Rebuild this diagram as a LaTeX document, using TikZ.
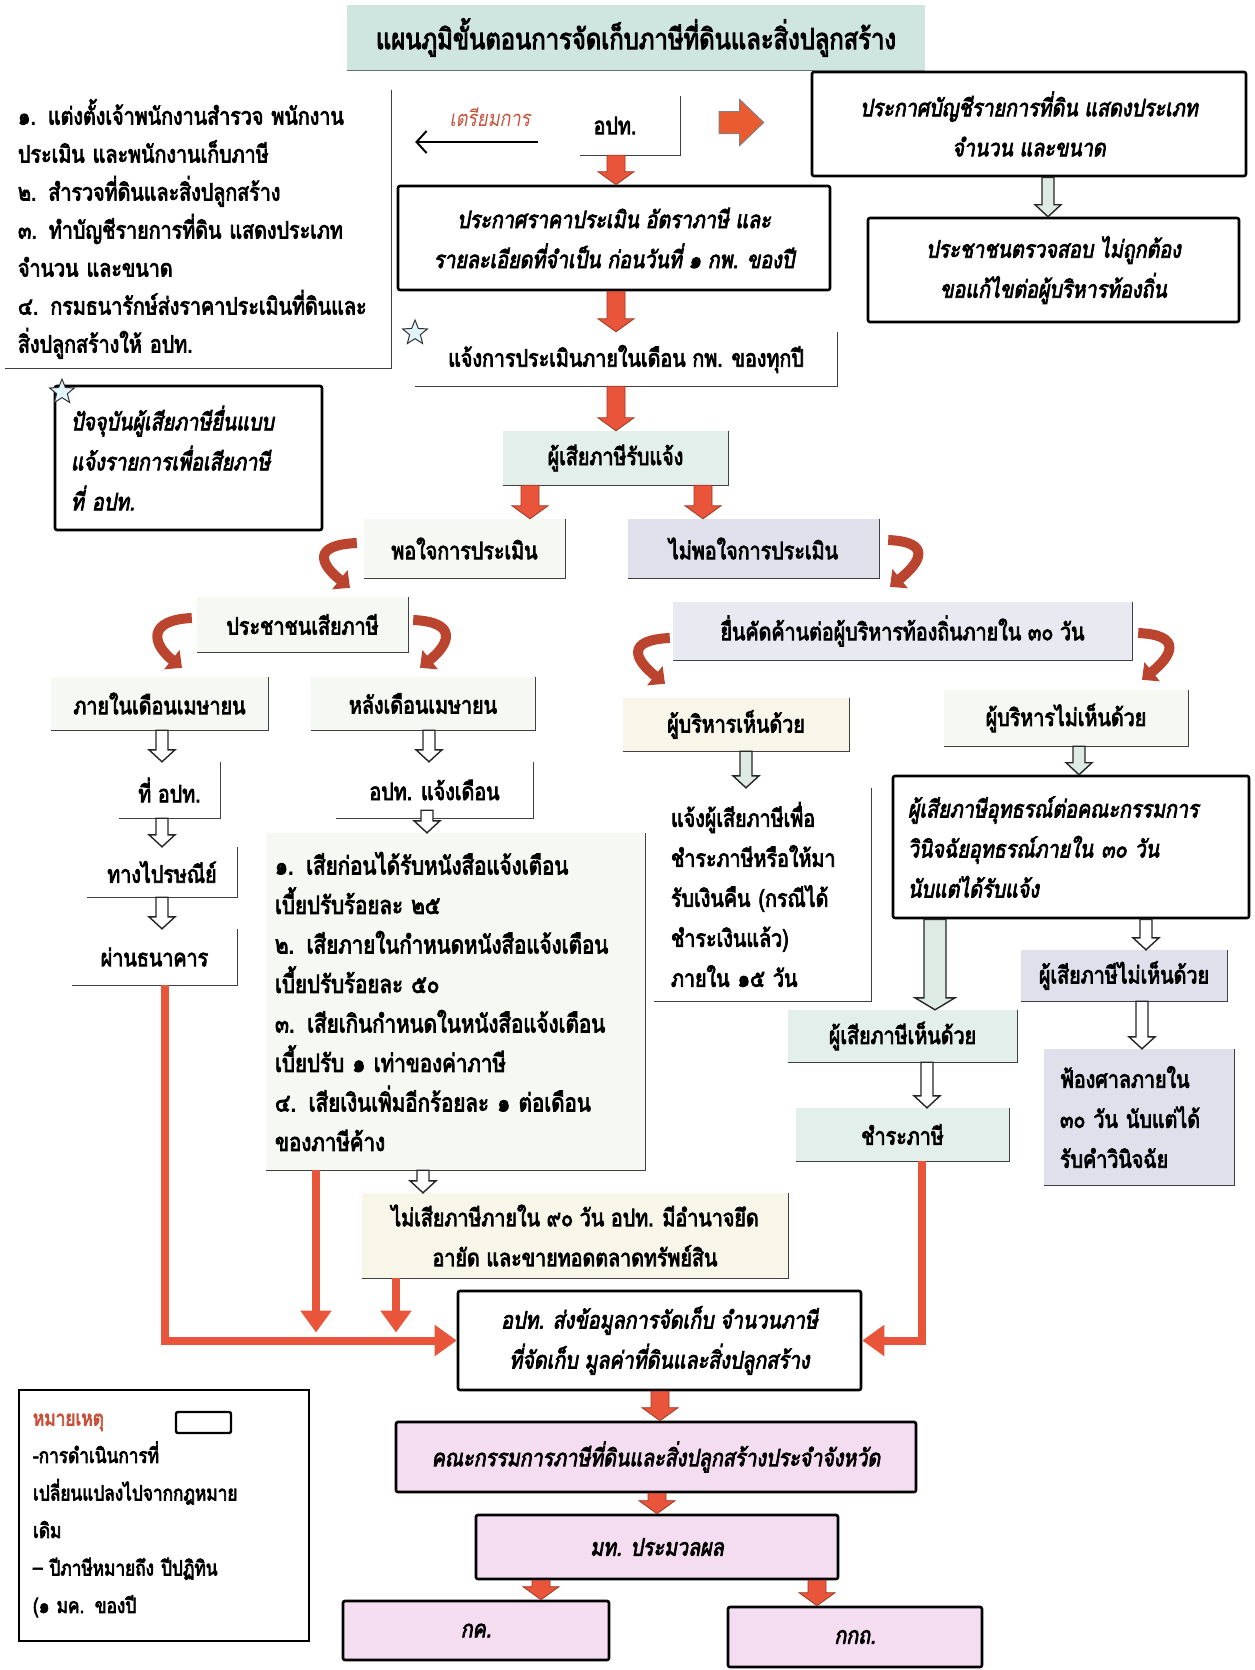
\documentclass[tikz,border=0pt]{standalone}
\usepackage{fontspec}
\setmainfont[Script=Thai, FakeStretch=0.82,
  BoldFont={Loma}, BoldFeatures={FakeBold=3.2},
  BoldItalicFeatures={FakeBold=3.2}]{Loma}
\usetikzlibrary{calc,arrows.meta,shapes.geometric}

\definecolor{titlefill}{HTML}{CFE5DF}
\definecolor{tealfill}{HTML}{E2EFEB}
\definecolor{lavfill}{HTML}{DFE0EC}
\definecolor{creamfill}{HTML}{F7F6E9}
\definecolor{palefill}{HTML}{F6F8F3}
\definecolor{pinkfill}{HTML}{F4DDF1}
\definecolor{arrred}{HTML}{E8553A}
\definecolor{arrdark}{HTML}{9C3A25}
\definecolor{arrgreen}{HTML}{DDEBE4}
\definecolor{labred}{HTML}{C8503A}

\newcommand{\bodyfont}{\fontsize{24}{40}\selectfont}

\tikzset{
  arrshaft/.store in=\arrshaft, arrshaft=7pt,
  arrhw/.store in=\arrhw, arrhw=14pt,
  arrhl/.store in=\arrhl, arrhl=12pt,
  downarr/.style={to path={let \p1=(\tikztostart), \p2=(\tikztotarget) in
    (\x1-\arrshaft,\y1) -- (\x1-\arrshaft,\y2+\arrhl) -- (\x1-\arrhw,\y2+\arrhl)
    -- (\x1,\y2) -- (\x1+\arrhw,\y2+\arrhl) -- (\x1+\arrshaft,\y2+\arrhl)
    -- (\x1+\arrshaft,\y1) -- cycle}},
  rightarr/.style={to path={let \p1=(\tikztostart), \p2=(\tikztotarget) in
    (\x1,\y1-\arrshaft) -- (\x2-\arrhl,\y1-\arrshaft) -- (\x2-\arrhl,\y1-\arrhw)
    -- (\x2,\y1) -- (\x2-\arrhl,\y1+\arrhw) -- (\x2-\arrhl,\y1+\arrshaft)
    -- (\x1,\y1+\arrshaft) -- cycle}},
  redarr/.style={downarr, fill=arrred, draw=arrdark, line width=0.8pt,
    arrshaft=9pt, arrhw=18pt, arrhl=13pt},
  hollarr/.style={downarr, fill=white, draw=black!85, line width=1.4pt,
    arrshaft=6pt, arrhw=13pt, arrhl=12pt},
  redline/.style={draw=arrred, line width=8pt, -{Triangle[length=22pt,width=30pt]}},
  curvy/.style={draw=arrred!80!black, line width=10pt, -{Triangle[length=13pt,width=24pt]}},
  edgeline/.style={draw=black!75, line width=1.3pt},
  flat/.style={font=\bfseries\bodyfont, align=center, inner sep=0pt},
  boldbox/.style={flat, draw, line width=2.6pt, rounded corners=2pt, fill=white,
    font=\bfseries\itshape\bodyfont},
  leftbox/.style={align=left, text width=#1},
  starmark/.style={star, star points=5, star point ratio=2.3, draw=black!80,
    line width=1pt, fill=cyan!12, minimum size=26pt, inner sep=0pt},
}

\begin{document}
\begin{tikzpicture}[x=1pt, y=1pt]

  \fill[white] (0,0) rectangle (1254,-1670);
  \useasboundingbox (0,0) rectangle (1254,-1670);

  % top part
  \node[flat, fill=titlefill, minimum width=578pt, minimum height=65pt,
    font=\bfseries\fontsize{29}{32}\selectfont] (title) at (636,-37.5)
    {แผนภูมิขั้นตอนการจัดเก็บภาษีที่ดินและสิ่งปลูกสร้าง};
  \node[flat, leftbox=360pt, minimum width=386pt, minimum height=278pt,
    font=\bfseries\fontsize{24}{38}\selectfont] (prep) at (198,-229)
    {๑. แต่งตั้งเจ้าพนักงานสำรวจ พนักงาน\\ประเมิน และพนักงานเก็บภาษี\\๒. สำรวจที่ดินและสิ่งปลูกสร้าง\\๓. ทำบัญชีรายการที่ดิน แสดงประเภท\\จำนวน และขนาด\\๔. กรมธนารักษ์ส่งราคาประเมินที่ดินและ\\สิ่งปลูกสร้างให้ อปท.};
  \node[flat, minimum width=100pt, minimum height=59pt] (aopt) at (630,-125.5) {อปท.\hspace*{30pt}};
  \node[flat, font=\itshape\fontsize{22}{30}\selectfont, text=labred] (triem) at (490,-117) {เตรียมการ};
  \node[boldbox, minimum width=434pt, minimum height=104pt] (listann) at (1029,-124)
    {ประกาศบัญชีรายการที่ดิน แสดงประเภท\\จำนวน และขนาด};
  \node[boldbox, minimum width=371pt, minimum height=104pt] (people) at (1053.5,-270)
    {ประชาชนตรวจสอบ ไม่ถูกต้อง\\ขอแก้ไขต่อผู้บริหารท้องถิ่น};
  \node[boldbox, minimum width=432pt, minimum height=104pt] (price) at (614,-238)
    {ประกาศราคาประเมิน อัตราภาษี และ\\รายละเอียดที่จำเป็น ก่อนวันที่ ๑ กพ. ของปี};
  \node[flat, minimum width=422pt, minimum height=54pt] (notify) at (626,-359)
    {แจ้งการประเมินภายในเดือน กพ. ของทุกปี};
  \node[boldbox, leftbox=235pt, minimum width=267pt, minimum height=144pt] (cur) at (188.5,-458)
    {ปัจจุบันผู้เสียภาษียื่นแบบ\\แจ้งรายการเพื่อเสียภาษี\\ที่ อปท.};
  \node[starmark] (star1) at (415,-333) {};
  \node[starmark] (star2) at (62,-392) {};

  % assessment
  \node[flat, fill=tealfill, minimum width=225pt, minimum height=54pt] (rub) at (615.5,-458) {ผู้เสียภาษีรับแจ้ง};
  \node[flat, fill=palefill, minimum width=201pt, minimum height=59pt] (pojai) at (464.5,-548.5) {พอใจการประเมิน};
  \node[flat, fill=lavfill, minimum width=251pt, minimum height=59pt] (maipo) at (753.5,-548.5) {ไม่พอใจการประเมิน};
  \node[flat, fill=palefill, minimum width=211pt, minimum height=55pt] (pc) at (302.5,-624.5) {ประชาชนเสียภาษี};
  \node[flat, fill=lavfill!70, minimum width=459pt, minimum height=58pt] (yuen) at (902.5,-631)
    {ยื่นคัดค้านต่อผู้บริหารท้องถิ่นภายใน ๓๐ วัน};
  \node[flat, fill=palefill, minimum width=217pt, minimum height=53pt] (inapr) at (159.5,-703.5) {ภายในเดือนเมษายน};
  \node[flat, fill=palefill, minimum width=224pt, minimum height=53pt] (afapr) at (423,-703.5) {หลังเดือนเมษายน};
  \node[flat, fill=creamfill, minimum width=226pt, minimum height=53pt] (exagr) at (736,-724.5) {ผู้บริหารเห็นด้วย};
  \node[flat, fill=palefill, minimum width=244pt, minimum height=56pt] (exdis) at (1066,-718) {ผู้บริหารไม่เห็นด้วย};

  % paying
  \node[flat, minimum width=101pt, minimum height=56pt] (ataopt) at (169.5,-790) {ที่ อปท.};
  \node[flat, minimum width=197pt, minimum height=56pt] (warn) at (434.5,-790) {อปท. แจ้งเดือน};
  \node[flat, minimum width=150pt, minimum height=50pt] (post) at (162,-872) {ทางไปรษณีย์};
  \node[flat, minimum width=165pt, minimum height=56pt] (bank) at (154.5,-957) {ผ่านธนาคาร};
  \node[flat, leftbox=361pt, fill=palefill, minimum width=379pt, minimum height=337pt,
    font=\bfseries\fontsize{25}{39.5}\selectfont] (penal) at (455.5,-1001.5)
    {๑. เสียก่อนได้รับหนังสือแจ้งเตือน\\เบี้ยปรับร้อยละ ๒๕\\๒. เสียภายในกำหนดหนังสือแจ้งเตือน\\เบี้ยปรับร้อยละ ๕๐\\๓. เสียเกินกำหนดในหนังสือแจ้งเตือน\\เบี้ยปรับ ๑ เท่าของค่าภาษี\\๔. เสียเงินเพิ่มอีกร้อยละ ๑ ต่อเดือน\\ของภาษีค้าง};
  \node[flat, leftbox=183pt, minimum width=217pt, minimum height=213pt] (refund) at (762.5,-894.5)
    {แจ้งผู้เสียภาษีเพื่อ\\ชำระภาษีหรือให้มา\\รับเงินคืน (กรณีได้\\ชำระเงินแล้ว)\\ภายใน ๑๕ วัน};
  \node[boldbox, leftbox=326pt, minimum width=356pt, minimum height=142pt] (appeal) at (1071,-847)
    {ผู้เสียภาษีอุทธรณ์ต่อคณะกรรมการ\\วินิจฉัยอุทธรณ์ภายใน ๓๐ วัน\\นับแต่ได้รับแจ้ง};
  \node[flat, fill=lavfill, minimum width=206pt, minimum height=51pt] (txdis) at (1124,-975.5) {ผู้เสียภาษีไม่เห็นด้วย};
  \node[flat, fill=tealfill, minimum width=229pt, minimum height=52pt] (txagr) at (902.5,-1036) {ผู้เสียภาษีเห็นด้วย};
  \node[flat, leftbox=158pt, fill=lavfill, minimum width=190pt, minimum height=136pt] (court) at (1139,-1117)
    {ฟ้องศาลภายใน\\๓๐ วัน นับแต่ได้\\รับคำวินิจฉัย};
  \node[flat, fill=tealfill, minimum width=213pt, minimum height=53pt] (pay) at (902.5,-1134.5) {ชำระภาษี};
  \node[flat, fill=creamfill, minimum width=426pt, minimum height=85pt] (seize) at (575,-1235.5)
    {ไม่เสียภาษีภายใน ๙๐ วัน อปท. มีอำนาจยึด\\อายัด และขายทอดตลาดทรัพย์สิน};

  % reporting
  \node[boldbox, minimum width=403pt, minimum height=99pt] (send) at (659.5,-1340.5)
    {อปท. ส่งข้อมูลการจัดเก็บ จำนวนภาษี\\ที่จัดเก็บ มูลค่าที่ดินและสิ่งปลูกสร้าง};
  \node[boldbox, fill=pinkfill, minimum width=520pt, minimum height=70pt] (comm) at (656,-1457)
    {คณะกรรมการภาษีที่ดินและสิ่งปลูกสร้างประจำจังหวัด};
  \node[boldbox, fill=pinkfill, minimum width=362pt, minimum height=64pt] (moi) at (657,-1547) {มท. ประมวลผล};
  \node[boldbox, fill=pinkfill, minimum width=266pt, minimum height=59pt] (kk) at (476,-1630.5) {กค.};
  \node[boldbox, fill=pinkfill, minimum width=254pt, minimum height=60pt] (kkt) at (855,-1637) {กกถ.};

  % legend
  \node[draw, line width=1.6pt, leftbox=262pt, inner xsep=14pt, minimum height=251pt,
    font=\bfseries\fontsize{21}{37.5}\selectfont] (legend) at (164,-1515.5)
    {\textcolor{labred}{หมายเหตุ}\\-การดำเนินการที่\\เปลี่ยนแปลงไปจากกฎหมาย\\เดิม\\– ปีภาษีหมายถึง ปีปฏิทิน\\(๑ มค. ของปี};
  \node[draw, line width=2.4pt, rounded corners=2pt, minimum width=55pt, minimum height=21pt] (legkey) at (203.5,-1422.5) {};

  % right and bottom edges
  \foreach \n in {prep,aopt,notify,rub,pojai,maipo,pc,yuen,inapr,afapr,exagr,exdis,
      ataopt,warn,post,bank,penal,refund,txdis,txagr,court,pay,seize}
    \draw[edgeline] (\n.north east) -- (\n.south east) -- (\n.south west);
  \draw[edgeline, draw=titlefill!50!black] (title.south west) -- (title.south east);

  % block arrows
  \draw[redarr] (616,0 |- aopt.south) to (616,0 |- price.north);
  \draw[redarr] (616,0 |- price.south) to (616,0 |- notify.north);
  \draw[redarr] (616,0 |- notify.south) to (616,0 |- rub.north);
  \draw[redarr] (530,0 |- rub.south) to (530,0 |- pojai.north);
  \draw[redarr] (703,0 |- rub.south) to (703,0 |- maipo.north);
  \draw[redarr] (660,0 |- send.south) to (660,0 |- comm.north);
  \draw[redarr] (657,0 |- comm.south) to (657,0 |- moi.north);
  \draw[redarr] (541,0 |- moi.south) to (541,0 |- kk.north);
  \draw[redarr] (817,0 |- moi.south) to (817,0 |- kkt.north);
  \draw[rightarr, fill=arrred!85!orange, draw=black!50, line width=1pt,
    arrshaft=11pt, arrhw=23pt, arrhl=24pt] ($(aopt.east)+(39,3)$) to ($(listann.west |- aopt.east)+(-47,3)$);

  \draw[hollarr, fill=arrgreen] (1048,0 |- listann.south) to (1048,0 |- people.north);
  \draw[hollarr] (162,0 |- inapr.south) to (162,0 |- ataopt.north);
  \draw[hollarr] (429,0 |- afapr.south) to (429,0 |- warn.north);
  \draw[hollarr] (162,0 |- ataopt.south) to (162,0 |- post.north);
  \draw[hollarr] ($(427,0 |- warn.south)+(0,8)$) to (427,0 |- penal.north);
  \draw[hollarr] (162,0 |- post.south) to (162,0 |- bank.north);
  \draw[hollarr, fill=arrgreen] (746,0 |- exagr.south) to (746,0 |- refund.north);
  \draw[hollarr, fill=arrgreen] (1079,0 |- exdis.south) to (1079,0 |- appeal.north);
  \draw[hollarr, fill=arrgreen, arrshaft=11pt, arrhw=20pt] (935,0 |- appeal.south) to (935,0 |- txagr.north);
  \draw[hollarr] (1146,0 |- appeal.south) to (1146,0 |- txdis.north);
  \draw[hollarr] (927,0 |- txagr.south) to (927,0 |- pay.north);
  \draw[hollarr] (1142,0 |- txdis.south) to (1142,0 |- court.north);
  \draw[hollarr] (423,0 |- penal.south) to (423,0 |- seize.north);

  \draw[line width=2pt, -{Straight Barb[length=10pt,width=22pt]}]
    ($(aopt.west)+(-42,-16.5)$) -- ($(prep.east |- aopt.west)+(24,-16.5)$);

  % curved arrows
  \draw[curvy] ($(pojai.west)+(-7,5.5)$) .. controls +(-45,-2) and +(-30,24) .. ($(pc.north)+(47.5,9)$);
  \draw[curvy] ($(maipo.east)+(9,8.5)$) .. controls +(45,-2) and +(30,24) .. ($(yuen.north)+(-12.5,15)$);
  \draw[curvy] ($(pc.west)+(-5,6.5)$) .. controls +(-45,-2) and +(-30,24) .. ($(inapr.north)+(22.5,9)$);
  \draw[curvy] ($(pc.east)+(5,4.5)$) .. controls +(45,-2) and +(30,24) .. ($(afapr.north)+(-3,9)$);
  \draw[curvy] ($(yuen.west)+(-3,-7)$) .. controls +(-45,-2) and +(-30,24) .. ($(exagr.north)+(-71,14)$);
  \draw[curvy] ($(yuen.east)+(6,-2)$) .. controls +(45,-2) and +(30,24) .. ($(exdis.north)+(76,10)$);

  % red collecting lines
  \draw[redline] (165,0 |- bank.south) |- (send.west);
  \draw[redline] (316,0 |- penal.south) -- ($(316,0 |- send.west)+(0,8)$);
  \draw[redline] (396,0 |- seize.south) -- ($(396,0 |- send.west)+(0,8)$);
  \draw[redline] (922,0 |- pay.south) |- (send.east);

\end{tikzpicture}
\end{document}
